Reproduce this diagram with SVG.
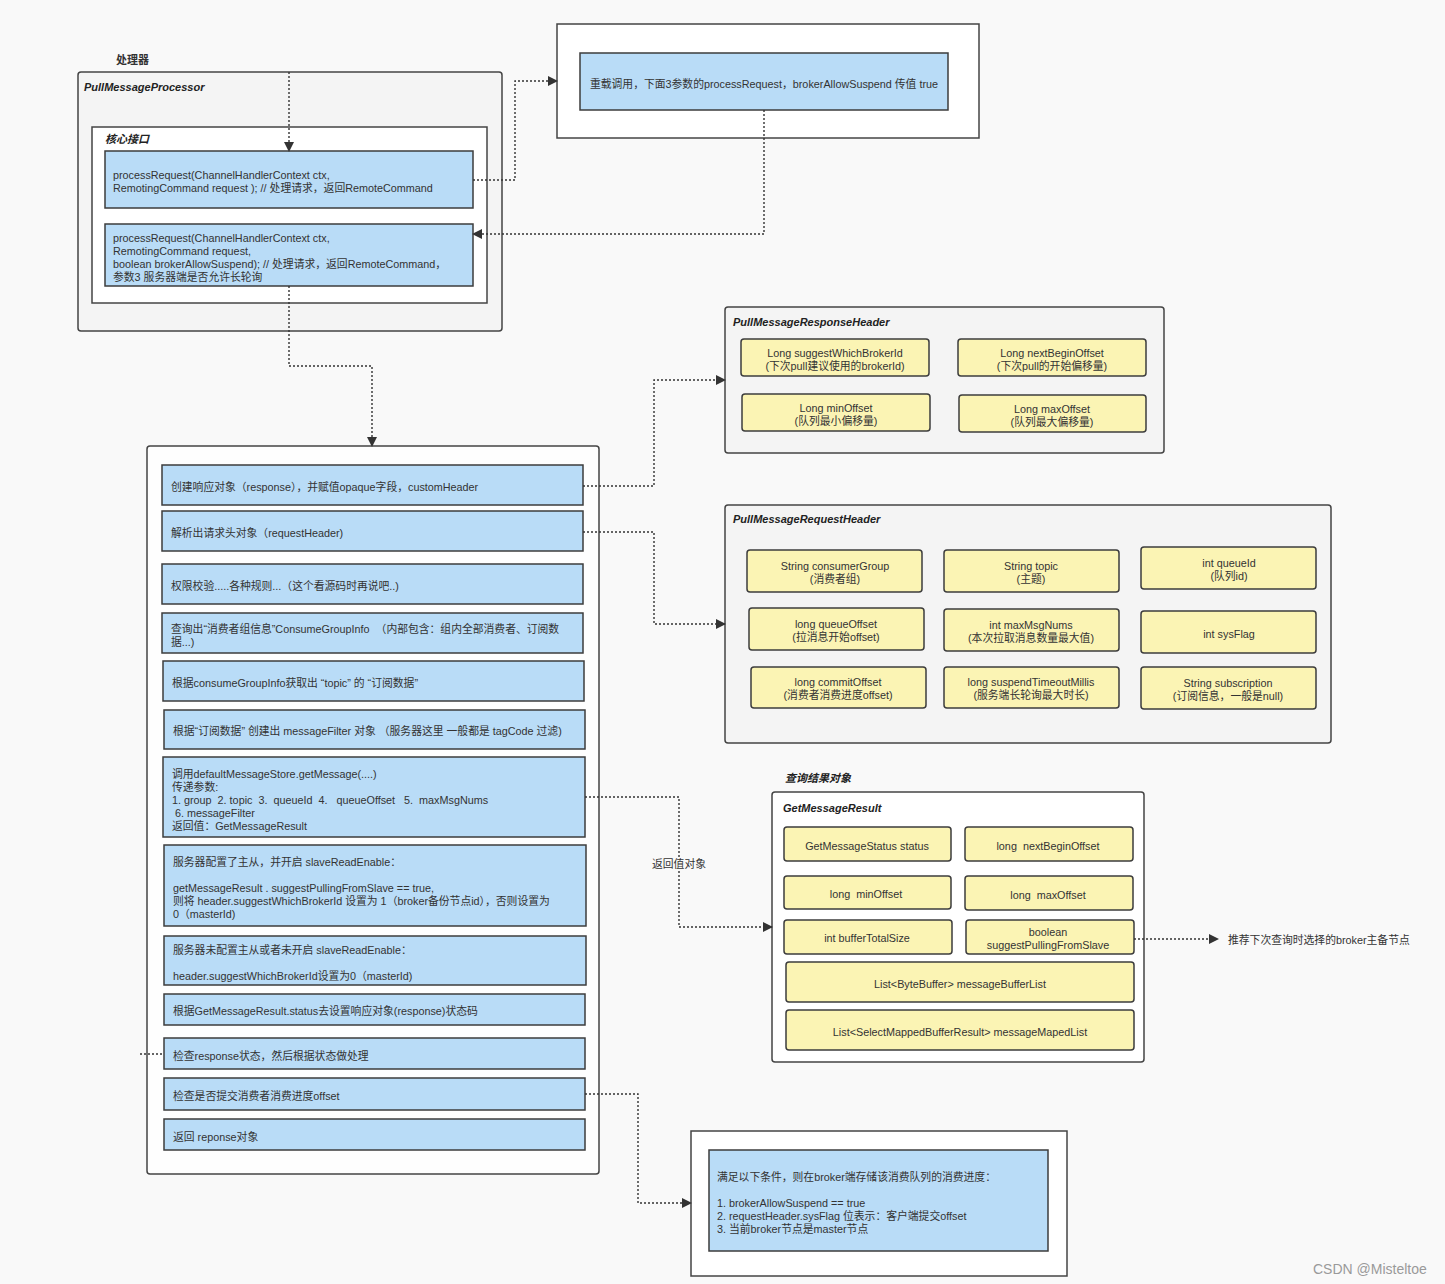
<svg xmlns="http://www.w3.org/2000/svg" width="1445" height="1284" viewBox="0 0 1445 1284">
<defs>
<style>
text{font-family:"Liberation Sans","Noto Sans CJK SC",sans-serif;font-size:10.8px;fill:#333;white-space:pre}
.t{font-style:italic;font-weight:bold;fill:#222;font-size:11px}
.c{text-anchor:middle}
.outer{fill:#f4f4f4;stroke:#444;stroke-width:1.5}
.white{fill:#ffffff;stroke:#444;stroke-width:1.5}
.blue{fill:#b9dcf7;stroke:#3d3d3d;stroke-width:1.5}
.yel{fill:#fbf4b4;stroke:#3d3d3d;stroke-width:1.5}
.e{fill:none;stroke:#333;stroke-width:1.4;stroke-dasharray:2 2}
.wm{fill:#9a9a9a;font-size:14px;font-family:"Liberation Sans",sans-serif}
</style>
<marker id="ah" markerWidth="10" markerHeight="10" refX="9" refY="5" orient="auto" markerUnits="userSpaceOnUse">
<path d="M0,0 L10,5 L0,10 z" fill="#333"/>
</marker>
</defs>
<rect x="0" y="0" width="1445" height="1284" fill="#f9f9f9"/>

<g id="processor">
<text x="116" y="64" style="font-weight:bold;font-size:11px">处理器</text>
<rect class="outer" x="78" y="72" width="424" height="259" rx="3"/>
<text class="t" x="84" y="91">PullMessageProcessor</text>
<rect class="white" x="92" y="127" width="395" height="176"/>
<text class="t" x="105" y="143">核心接口</text>
</g>
<g id="proc1">
<rect class="blue" x="105" y="151" width="368" height="57"/>
<text x="113" y="179">processRequest(ChannelHandlerContext ctx,</text>
<text x="113" y="192">RemotingCommand request ); // 处理请求，返回RemoteCommand</text>
</g>
<g id="proc2">
<rect class="blue" x="105" y="224" width="368" height="62"/>
<text x="113" y="242">processRequest(ChannelHandlerContext ctx,</text>
<text x="113" y="255">RemotingCommand request,</text>
<text x="113" y="268">boolean brokerAllowSuspend); // 处理请求，返回RemoteCommand，</text>
<text x="113" y="281">参数3 服务器端是否允许长轮询</text>
</g>

<g id="overload">
<rect class="white" x="557" y="24" width="422" height="114"/>
<rect class="blue" x="580" y="53" width="368" height="57"/>
<text class="c" x="764" y="88">重载调用，下面3参数的processRequest，brokerAllowSuspend 传值 true</text>
</g>

<g id="flow">
<rect fill="#fefefe" stroke="#444" stroke-width="1.5" x="147" y="446" width="452" height="728" rx="3"/>
</g>
<g id="s1"><rect class="blue" x="162" y="465" width="421" height="40"/><text x="171" y="491">创建响应对象（response），并赋值opaque字段，customHeader</text></g>
<g id="s2"><rect class="blue" x="162" y="511" width="421" height="40"/><text x="171" y="537">解析出请求头对象（requestHeader)</text></g>
<g id="s3"><rect class="blue" x="162" y="564" width="421" height="40"/><text x="171" y="590">权限校验.....各种规则...（这个看源码时再说吧..)</text></g>
<g id="s4"><rect class="blue" x="162" y="613" width="421" height="40"/><text x="171" y="633">查询出“消费者组信息”ConsumeGroupInfo  （内部包含：组内全部消费者、订阅数</text><text x="171" y="646">据...)</text></g>
<g id="s5"><rect class="blue" x="163" y="661" width="421" height="40"/><text x="172" y="687">根据consumeGroupInfo获取出 “topic” 的 “订阅数据”</text></g>
<g id="s6"><rect class="blue" x="164" y="710" width="421" height="39"/><text x="173" y="735">根据“订阅数据” 创建出 messageFilter 对象 （服务器这里 一般都是 tagCode 过滤)</text></g>
<g id="s7"><rect class="blue" x="163" y="757" width="422" height="80"/>
<text x="172" y="778">调用defaultMessageStore.getMessage(....)</text>
<text x="172" y="791">传递参数:</text>
<text x="172" y="804">1. group  2. topic  3.  queueId  4.   queueOffset   5.  maxMsgNums</text>
<text x="172" y="817"> 6. messageFilter</text>
<text x="172" y="830">返回值：GetMessageResult</text></g>
<g id="s8"><rect class="blue" x="164" y="845" width="422" height="81"/>
<text x="173" y="866">服务器配置了主从，并开启 slaveReadEnable：</text>
<text x="173" y="892">getMessageResult . suggestPullingFromSlave == true,</text>
<text x="173" y="905">则将 header.suggestWhichBrokerId 设置为 1（broker备份节点id），否则设置为</text>
<text x="173" y="918">0（masterId)</text></g>
<g id="s9"><rect class="blue" x="164" y="936" width="422" height="49"/>
<text x="173" y="954">服务器未配置主从或者未开启 slaveReadEnable：</text>
<text x="173" y="980">header.suggestWhichBrokerId设置为0（masterId)</text></g>
<g id="s10"><rect class="blue" x="164" y="994" width="421" height="31"/><text x="173" y="1015">根据GetMessageResult.status去设置响应对象(response)状态码</text></g>
<g id="s11"><rect class="blue" x="164" y="1038" width="421" height="31"/><text x="173" y="1060">检查response状态，然后根据状态做处理</text></g>
<g id="s12"><rect class="blue" x="164" y="1078" width="421" height="32"/><text x="173" y="1100">检查是否提交消费者消费进度offset</text></g>
<g id="s13"><rect class="blue" x="164" y="1119" width="421" height="31"/><text x="173" y="1141">返回 reponse对象</text></g>

<g id="respHeader">
<rect class="outer" x="725" y="307" width="439" height="146" rx="3"/>
<text class="t" x="733" y="326">PullMessageResponseHeader</text>
<rect class="yel" x="741" y="339" width="188" height="37" rx="3"/><text class="c" x="835" y="357">Long suggestWhichBrokerId</text><text class="c" x="835" y="370">(下次pull建议使用的brokerId)</text>
<rect class="yel" x="958" y="339" width="188" height="37" rx="3"/><text class="c" x="1052" y="357">Long nextBeginOffset</text><text class="c" x="1052" y="370">(下次pull的开始偏移量)</text>
<rect class="yel" x="742" y="394" width="188" height="37" rx="3"/><text class="c" x="836" y="412">Long minOffset</text><text class="c" x="836" y="425">(队列最小偏移量)</text>
<rect class="yel" x="959" y="395" width="187" height="37" rx="3"/><text class="c" x="1052" y="413">Long maxOffset</text><text class="c" x="1052" y="426">(队列最大偏移量)</text>
</g>

<g id="reqHeader">
<rect class="outer" x="725" y="505" width="606" height="238" rx="3"/>
<text class="t" x="733" y="523">PullMessageRequestHeader</text>
<rect class="yel" x="747" y="550" width="175" height="42" rx="3"/><text class="c" x="835" y="570">String consumerGroup</text><text class="c" x="835" y="583">(消费者组)</text>
<rect class="yel" x="944" y="550" width="175" height="42" rx="3"/><text class="c" x="1031" y="570">String topic</text><text class="c" x="1031" y="583">(主题)</text>
<rect class="yel" x="1141" y="547" width="175" height="42" rx="3"/><text class="c" x="1229" y="567">int queueId</text><text class="c" x="1229" y="580">(队列id)</text>
<rect class="yel" x="749" y="608" width="175" height="42" rx="3"/><text class="c" x="836" y="628">long queueOffset</text><text class="c" x="836" y="641">(拉消息开始offset)</text>
<rect class="yel" x="944" y="609" width="175" height="42" rx="3"/><text class="c" x="1031" y="629">int maxMsgNums</text><text class="c" x="1031" y="642">(本次拉取消息数量最大值)</text>
<rect class="yel" x="1141" y="611" width="175" height="42" rx="3"/><text class="c" x="1229" y="638">int sysFlag</text>
<rect class="yel" x="751" y="667" width="175" height="41" rx="3"/><text class="c" x="838" y="686">long commitOffset</text><text class="c" x="838" y="699">(消费者消费进度offset)</text>
<rect class="yel" x="944" y="667" width="175" height="41" rx="3"/><text class="c" x="1031" y="686">long suspendTimeoutMillis</text><text class="c" x="1031" y="699">(服务端长轮询最大时长)</text>
<rect class="yel" x="1141" y="667" width="175" height="42" rx="3"/><text class="c" x="1228" y="687">String subscription</text><text class="c" x="1228" y="700">(订阅信息，一般是null)</text>
</g>

<g id="getMessageResult">
<text class="t" x="785" y="782">查询结果对象</text>
<rect fill="#ffffff" stroke="#444" stroke-width="1.5" x="772" y="792" width="372" height="270" rx="3"/>
<text class="t" x="783" y="812">GetMessageResult</text>
<rect class="yel" x="784" y="827" width="167" height="34" rx="3"/><text class="c" x="867" y="850">GetMessageStatus status</text>
<rect class="yel" x="965" y="827" width="168" height="34" rx="3"/><text class="c" x="1048" y="850">long  nextBeginOffset</text>
<rect class="yel" x="784" y="876" width="167" height="33" rx="3"/><text class="c" x="866" y="898">long  minOffset</text>
<rect class="yel" x="965" y="876" width="168" height="34" rx="3"/><text class="c" x="1048" y="899">long  maxOffset</text>
<rect class="yel" x="784" y="920" width="168" height="34" rx="3"/><text class="c" x="867" y="942">int bufferTotalSize</text>
<rect class="yel" x="966" y="920" width="168" height="34" rx="3"/><text class="c" x="1048" y="936">boolean</text><text class="c" x="1048" y="949">suggestPullingFromSlave</text>
<rect class="yel" x="786" y="962" width="348" height="40" rx="3"/><text class="c" x="960" y="988">List&lt;ByteBuffer&gt; messageBufferList</text>
<rect class="yel" x="786" y="1010" width="348" height="40" rx="3"/><text class="c" x="960" y="1036">List&lt;SelectMappedBufferResult&gt; messageMapedList</text>
</g>

<g id="commitOffset">
<rect class="white" x="691" y="1131" width="376" height="145"/>
<rect class="blue" x="709" y="1150" width="339" height="101"/>
<text x="717" y="1181">满足以下条件，则在broker端存储该消费队列的消费进度：</text>
<text x="717" y="1207">1. brokerAllowSuspend == true</text>
<text x="717" y="1220">2. requestHeader.sysFlag 位表示：客户端提交offset</text>
<text x="717" y="1233">3. 当前broker节点是master节点</text>
</g>

<g id="connectors">
<path class="e" d="M289,72 V151" marker-end="url(#ah)"/>
<path class="e" d="M473,180 H515 V81 H557" marker-end="url(#ah)"/>
<path class="e" d="M764,110 V234 H473" marker-end="url(#ah)"/>
<path class="e" d="M289,286 V366 H372 V446" marker-end="url(#ah)"/>
<path class="e" d="M583,486 H654 V380 H725" marker-end="url(#ah)"/>
<path class="e" d="M583,532 H654 V624 H725" marker-end="url(#ah)"/>
<path class="e" d="M585,797 H679 V927 H772" marker-end="url(#ah)"/>
<path class="e" d="M585,1094 H638 V1203 H691" marker-end="url(#ah)"/>
<path class="e" d="M1134,939 H1218" marker-end="url(#ah)"/>
<path class="e" d="M140,1054 H164"/>
<rect x="652" y="857" width="54" height="14" fill="#f9f9f9"/>
<text class="c" x="679" y="868">返回值对象</text>
<text x="1228" y="944">推荐下次查询时选择的broker主备节点</text>
</g>

<text class="wm" x="1313" y="1274">CSDN @Misteltoe</text>
</svg>
